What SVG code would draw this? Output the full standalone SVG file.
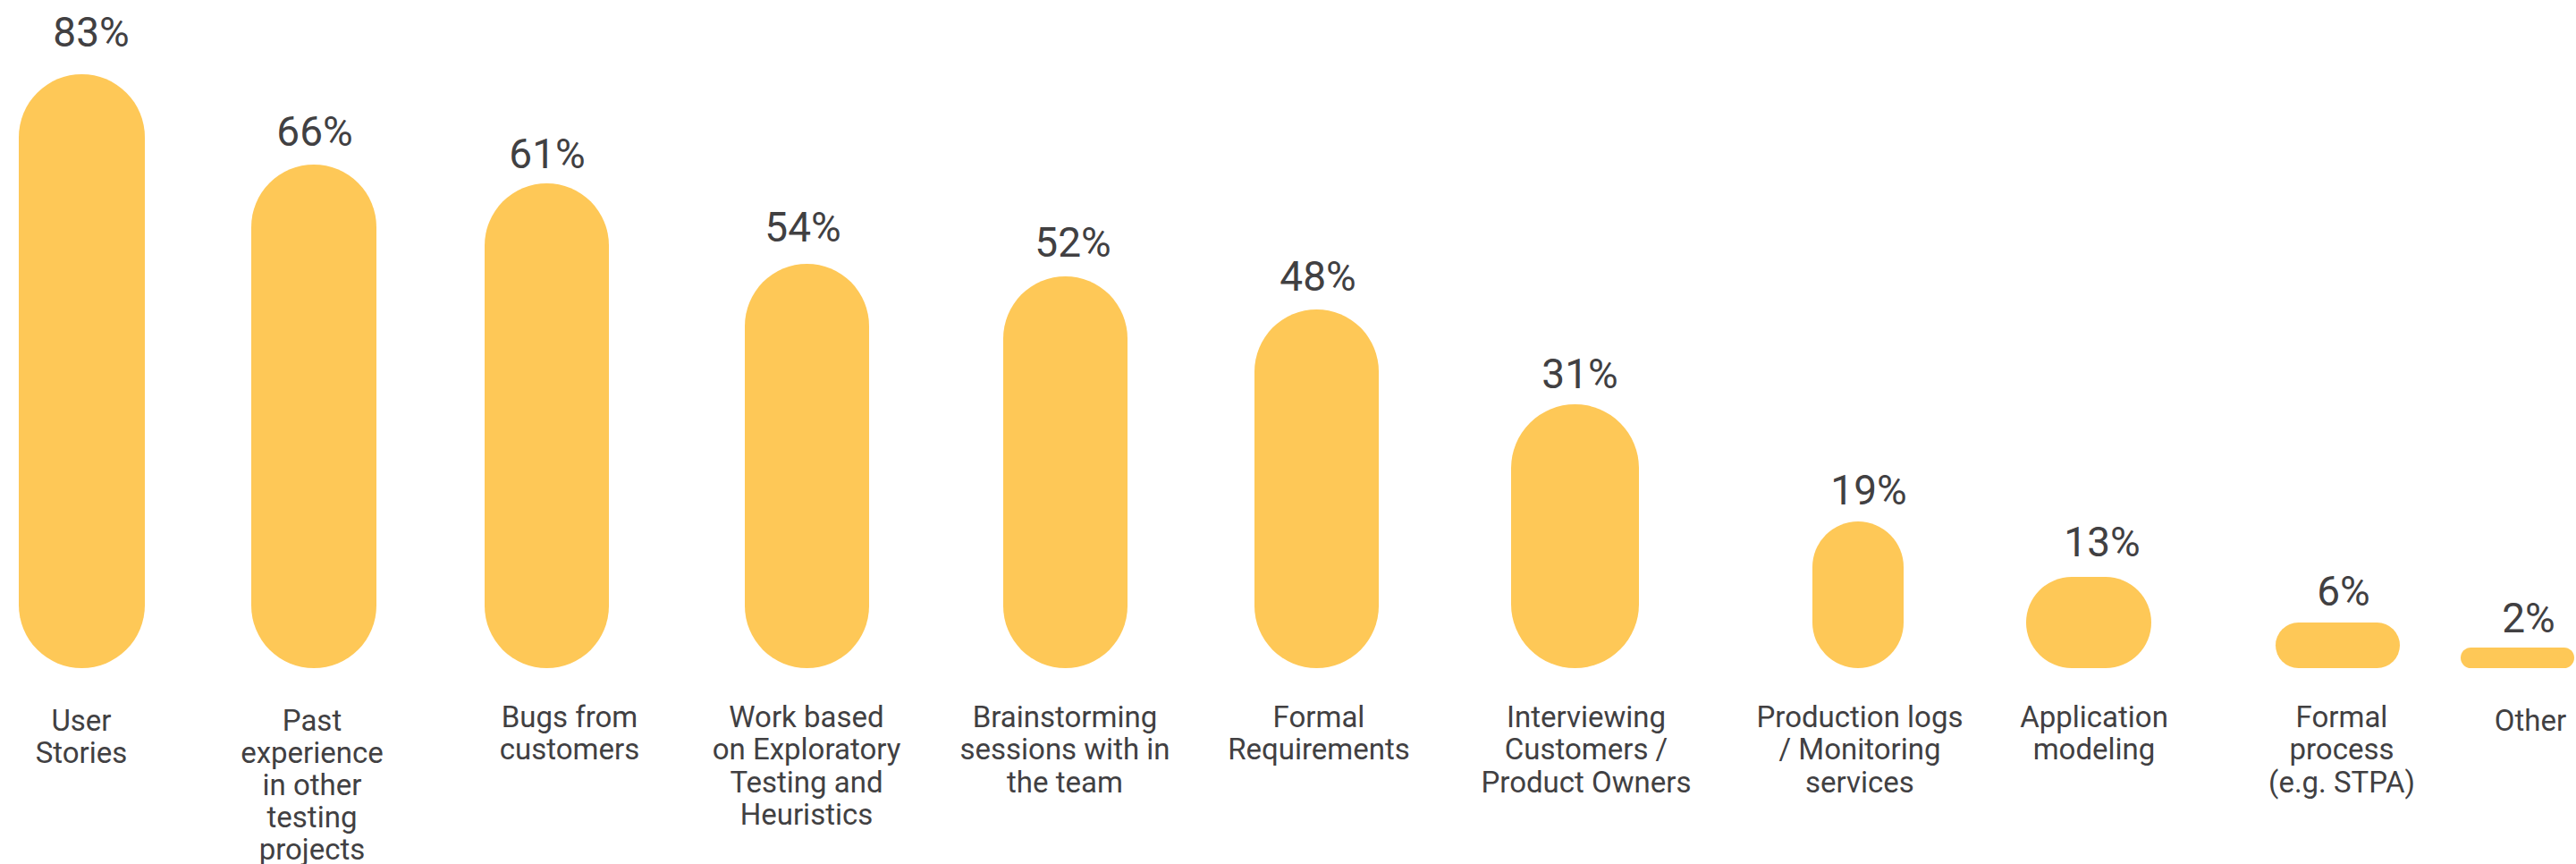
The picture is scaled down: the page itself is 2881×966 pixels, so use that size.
<svg xmlns="http://www.w3.org/2000/svg" width="2881" height="966" viewBox="0 0 2881 966">
<style>
.bar{fill:#FEC857}
.pct{font-family:Roboto,"Liberation Sans",sans-serif;font-size:46px;fill:#414042;text-anchor:middle}
.lbl{font-family:Roboto,"Liberation Sans",sans-serif;font-size:33px;fill:#414042;text-anchor:middle}
</style>
<rect width="2881" height="966" fill="#ffffff"/>
<g id="bar-user-stories">
<rect class="bar" x="21" y="83" width="141" height="664" rx="70.5"/>
<text class="pct" x="102" y="52">83%</text>
<text class="lbl" x="91"><tspan x="91" y="817">User</tspan><tspan x="91" y="853">Stories</tspan></text>
</g>
<g id="bar-past-experience">
<rect class="bar" x="281" y="184" width="140" height="563" rx="70"/>
<text class="pct" x="352" y="163">66%</text>
<text class="lbl"><tspan x="349" y="817">Past</tspan><tspan x="349" y="853">experience</tspan><tspan x="349" y="889">in other</tspan><tspan x="349" y="925">testing</tspan><tspan x="349" y="961">projects</tspan></text>
</g>
<g id="bar-bugs">
<rect class="bar" x="542" y="205" width="139" height="542" rx="69.5"/>
<text class="pct" x="612" y="188">61%</text>
<text class="lbl"><tspan x="637" y="813">Bugs from</tspan><tspan x="637" y="849">customers</tspan></text>
</g>
<g id="bar-exploratory">
<rect class="bar" x="833" y="295" width="139" height="452" rx="69.5"/>
<text class="pct" x="898" y="270">54%</text>
<text class="lbl"><tspan x="902" y="813">Work based</tspan><tspan x="902" y="849">on Exploratory</tspan><tspan x="902" y="886">Testing and</tspan><tspan x="902" y="922">Heuristics</tspan></text>
</g>
<g id="bar-brainstorming">
<rect class="bar" x="1122" y="309" width="139" height="438" rx="69.5"/>
<text class="pct" x="1200" y="287">52%</text>
<text class="lbl"><tspan x="1191" y="813">Brainstorming</tspan><tspan x="1191" y="849">sessions with in</tspan><tspan x="1191" y="886">the team</tspan></text>
</g>
<g id="bar-formal-requirements">
<rect class="bar" x="1403" y="346" width="139" height="401" rx="69.5"/>
<text class="pct" x="1474" y="325">48%</text>
<text class="lbl"><tspan x="1475" y="813">Formal</tspan><tspan x="1475" y="849">Requirements</tspan></text>
</g>
<g id="bar-interviewing">
<rect class="bar" x="1690" y="452" width="143" height="295" rx="71.5"/>
<text class="pct" x="1767" y="434">31%</text>
<text class="lbl"><tspan x="1774" y="813">Interviewing</tspan><tspan x="1774" y="849">Customers /</tspan><tspan x="1774" y="886">Product Owners</tspan></text>
</g>
<g id="bar-production-logs">
<rect class="bar" x="2027" y="583" width="102" height="164" rx="51"/>
<text class="pct" x="2090" y="564">19%</text>
<text class="lbl"><tspan x="2080" y="813">Production logs</tspan><tspan x="2080" y="849">/ Monitoring</tspan><tspan x="2080" y="886">services</tspan></text>
</g>
<g id="bar-application-modeling">
<rect class="bar" x="2266" y="645" width="140" height="102" rx="51"/>
<text class="pct" x="2351" y="622">13%</text>
<text class="lbl"><tspan x="2342" y="813">Application</tspan><tspan x="2342" y="849">modeling</tspan></text>
</g>
<g id="bar-formal-process">
<rect class="bar" x="2545" y="696" width="139" height="51" rx="25.5"/>
<text class="pct" x="2621" y="677">6%</text>
<text class="lbl"><tspan x="2619" y="813">Formal</tspan><tspan x="2619" y="849">process</tspan><tspan x="2619" y="886">(e.g. STPA)</tspan></text>
</g>
<g id="bar-other">
<rect class="bar" x="2752" y="724" width="127" height="23" rx="11.5"/>
<text class="pct" x="2828" y="707">2%</text>
<text class="lbl" x="2830" y="817">Other</text>
</g>
<g id="connectors"/>
</svg>
